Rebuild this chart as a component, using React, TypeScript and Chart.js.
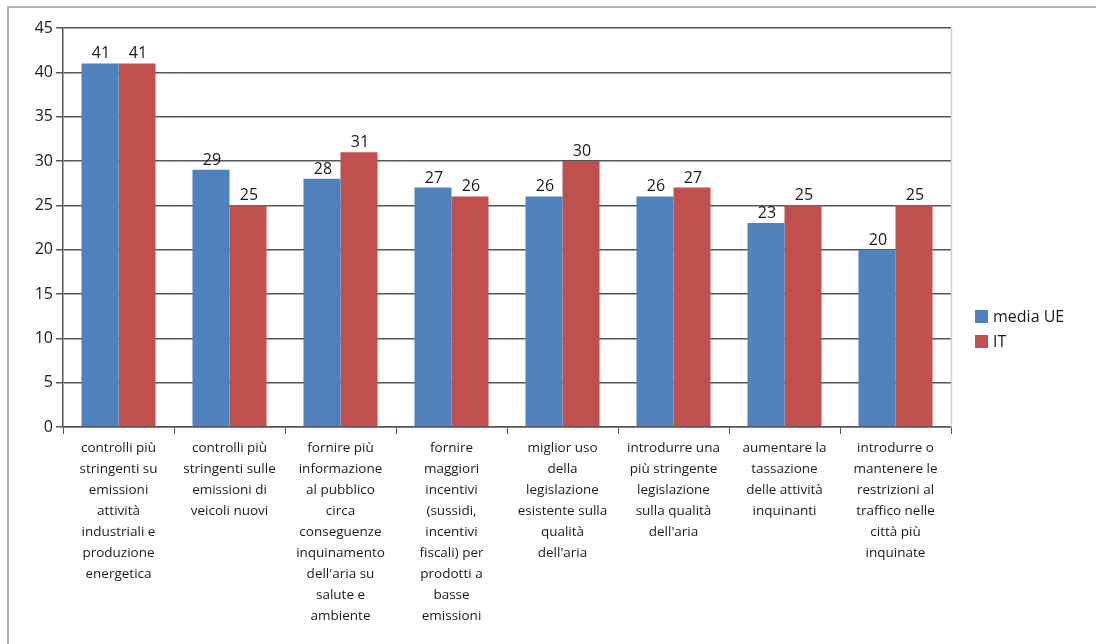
import React, { useEffect, useRef } from "react";
import { Chart, registerables } from "chart.js";

Chart.register(...registerables);

const categories: string[][] = [
  ["controlli più", "stringenti su", "emissioni", "attività", "industriali e", "produzione", "energetica"],
  ["controlli più", "stringenti sulle", "emissioni di", "veicoli nuovi"],
  ["fornire più", "informazione", "al pubblico", "circa", "conseguenze", "inquinamento", "dell'aria su", "salute e", "ambiente"],
  ["fornire", "maggiori", "incentivi", "(sussidi,", "incentivi", "fiscali) per", "prodotti a", "basse", "emissioni"],
  ["miglior uso", "della", "legislazione", "esistente sulla", "qualità", "dell'aria"],
  ["introdurre una", "più stringente", "legislazione", "sulla qualità", "dell'aria"],
  ["aumentare la", "tassazione", "delle attività", "inquinanti"],
  ["introdurre o", "mantenere le", "restrizioni al", "traffico nelle", "città più", "inquinate"],
];

const mediaUE: number[] = [41, 29, 28, 27, 26, 26, 23, 20];
const italia: number[] = [41, 25, 31, 26, 30, 27, 25, 25];
const seriesNames: string[] = ["media UE", "IT"];
const yTicks: number[] = [0, 5, 10, 15, 20, 25, 30, 35, 40, 45];

const FONT = "'Open Sans', Lato, sans-serif";

const valueLabels = {
  id: "valueLabels",
  afterDatasetsDraw(chart: any) {
    const ctx = chart.ctx;
    ctx.save();
    ctx.font = `16px ${FONT}`;
    ctx.fillStyle = "#1a1a1a";
    ctx.textAlign = "center";
    ctx.textBaseline = "alphabetic";
    chart.data.datasets.forEach((ds: any, di: number) => {
      const meta = chart.getDatasetMeta(di);
      meta.data.forEach((bar: any, i: number) => {
        ctx.fillText(String(ds.data[i]), bar.x + 1, bar.y - 5);
      });
    });
    // plot area right border
    const a = chart.chartArea;
    ctx.strokeStyle = "#cfcfcf";
    ctx.lineWidth = 1.5;
    ctx.beginPath();
    ctx.moveTo(a.right + 0.5, a.top);
    ctx.lineTo(a.right + 0.5, a.bottom);
    ctx.stroke();
    // legend
    const lx = 975;
    const ly = [316, 341];
    ctx.font = `16px ${FONT}`;
    ctx.textAlign = "left";
    ctx.textBaseline = "middle";
    chart.data.datasets.forEach((ds: any, di: number) => {
      ctx.fillStyle = ds.backgroundColor;
      ctx.fillRect(lx, ly[di] - 6, 13, 13);
      ctx.fillStyle = "#1a1a1a";
      ctx.fillText(ds.label, lx + 18, ly[di] + 1);
    });
    ctx.restore();
  },
};

export default function App() {
  const ref = useRef<HTMLCanvasElement>(null);
  useEffect(() => {
    document.body.style.margin = "0";
    const chart = new Chart(ref.current!, {
      type: "bar",
      data: {
        labels: categories as any,
        datasets: [
          { label: seriesNames[0], data: mediaUE, backgroundColor: "#4F81BD" },
          { label: seriesNames[1], data: italia, backgroundColor: "#C0504D" },
        ],
      },
      options: {
        animation: false,
        responsive: false,
        devicePixelRatio: 1,
        layout: { padding: { left: 0, top: 28, right: 145, bottom: 0 } },
        plugins: { legend: { display: false }, tooltip: { enabled: false } },
        datasets: { bar: { barPercentage: 1, categoryPercentage: 0.667 } } as any,
        scales: {
          x: {
            grid: {
              display: true,
              drawOnChartArea: false,
              drawTicks: true,
              tickLength: 7,
              tickColor: "#555",
              offset: true,
            },
            border: { display: true, color: "#555", width: 1.5 },
            ticks: {
              font: { family: FONT, size: 13.5, lineHeight: "21px" as any },
              color: "#1a1a1a",
              maxRotation: 0,
              minRotation: 0,
              autoSkip: false,
              padding: 4,
            },
            afterFit: (s: any) => {
              s.height = 644 - 427;
            },
          },
          y: {
            min: 0,
            max: 45,
            afterBuildTicks: (s: any) => {
              s.ticks = yTicks.map((v) => ({ value: v }));
            },
            grid: {
              color: "#555",
              lineWidth: 1.5,
              tickLength: 7,
              tickColor: "#555",
            },
            border: { display: true, color: "#555", width: 1.5 },
            ticks: {
              font: { family: FONT, size: 16 },
              color: "#1a1a1a",
              padding: 3,
            },
            afterFit: (s: any) => {
              s.width = 63;
            },
          },
        },
      },
      plugins: [valueLabels],
    });
    return () => chart.destroy();
  }, []);
  return (
    <div style={{ position: "relative", width: 1096, height: 644, overflow: "hidden" }}>
      <canvas ref={ref} width={1096} height={644} style={{ display: "block" }} />
      <div
        style={{
          position: "absolute",
          left: 7,
          top: 6,
          width: 1200,
          height: 800,
          borderLeft: "2px solid #b5b5b5",
          borderTop: "2px solid #b5b5b5",
          pointerEvents: "none",
        }}
      />
    </div>
  );
}
